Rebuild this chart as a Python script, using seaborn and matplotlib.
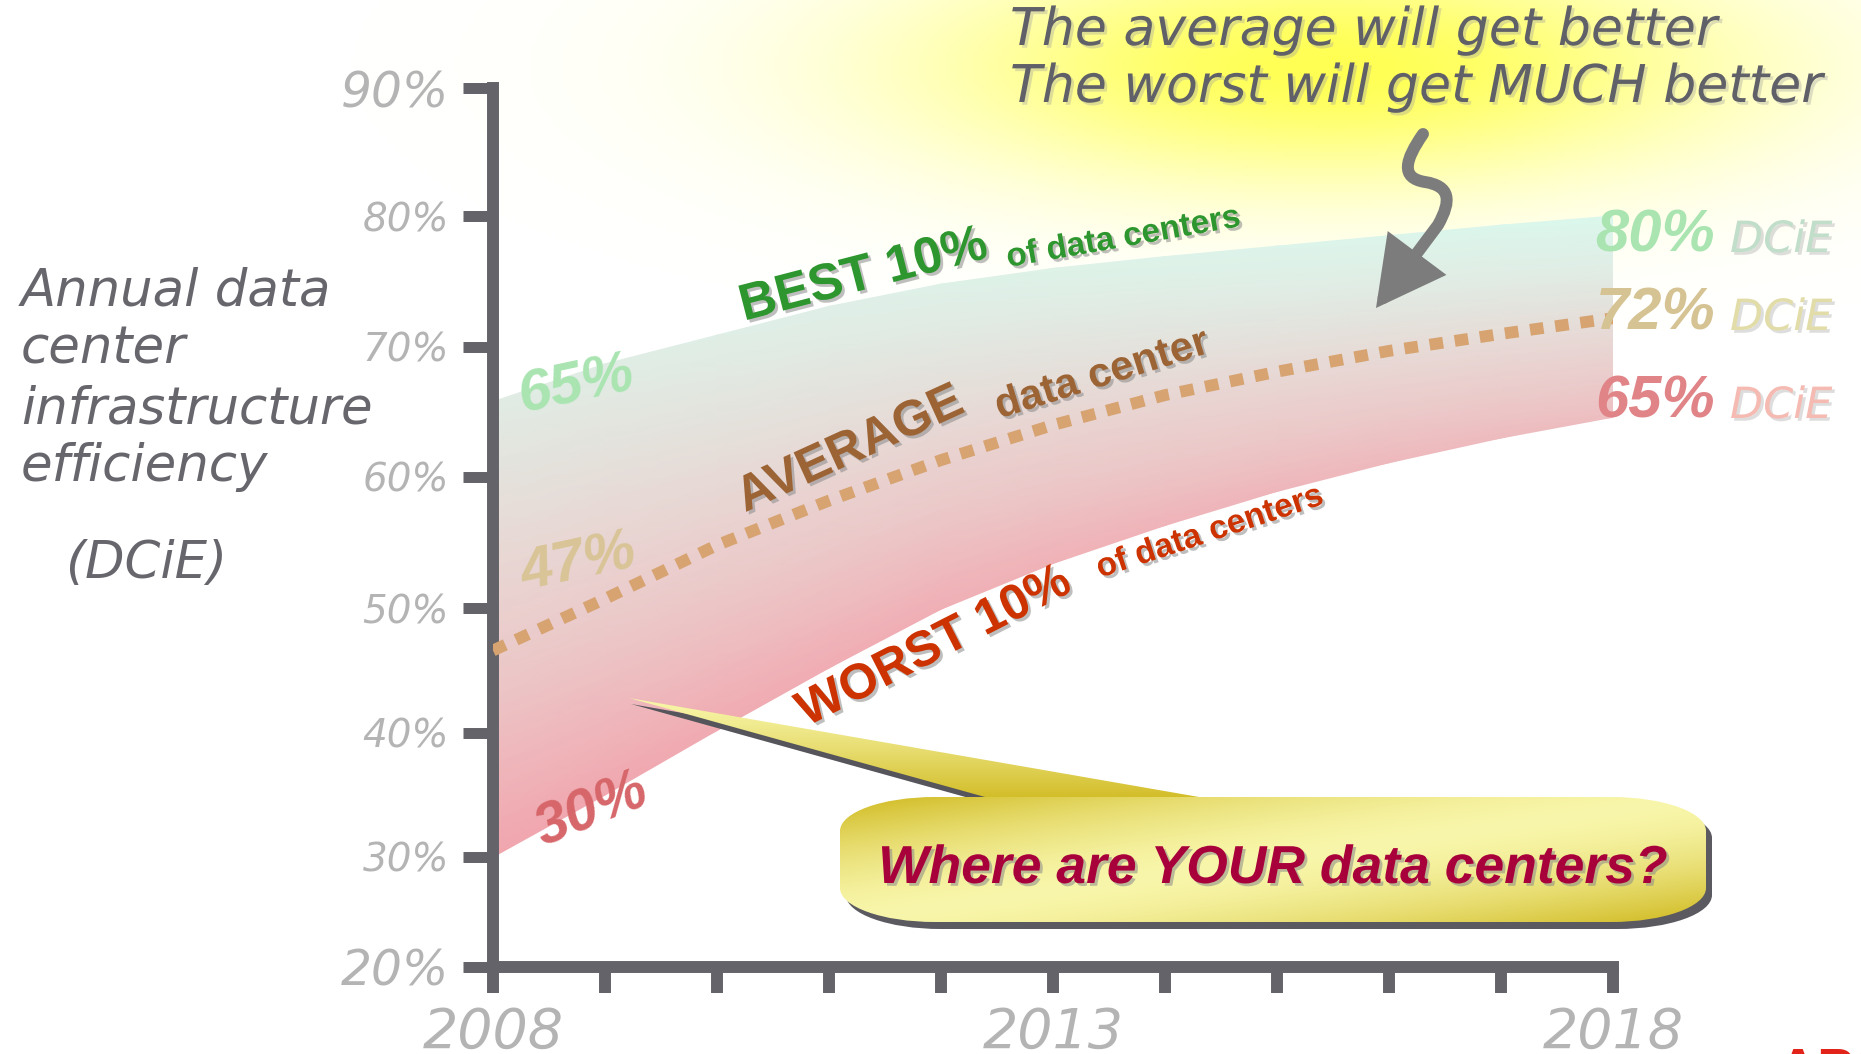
import numpy as np
import seaborn as sns
import matplotlib.pyplot as plt
import matplotlib.patheffects as pe
from matplotlib.colors import LinearSegmentedColormap, to_rgb
from matplotlib.path import Path
from matplotlib.patches import PathPatch, Polygon, FancyArrowPatch

# ---- data ----
years = np.arange(2008, 2019)
best = [65.8, 68.7, 70.9, 73.1, 74.8, 76.0, 76.9, 77.7, 78.5, 79.3, 80.0]
average = [46.6, 50.7, 54.8, 58.2, 61.3, 64.0, 66.3, 68.1, 69.7, 71.0, 72.2]
worst = [30.0, 35.0, 40.2, 45.2, 49.9, 53.4, 56.3, 58.9, 61.1, 63.0, 64.6]

y_ticks = [20, 30, 40, 50, 60, 70, 80, 90]
y_tick_labels = ['20%', '30%', '40%', '50%', '60%', '70%', '80%', '90%']
# the slide's y axis is not evenly spaced: height (px) of each tick above the x axis
y_tick_px = [0, 110, 234, 359, 490, 620, 751, 879]
x_labelled = {2008: '2008', 2013: '2013', 2018: '2018'}

start_labels = ['65%', '47%', '30%']
end_labels = ['80%', '72%', '65%']

AXIS = '#636369'
GREY_TXT = '#b4b4b4'


def fwd(v):
    v = np.asarray(v, dtype=float)
    out = np.interp(v, y_ticks, y_tick_px)
    out = np.where(v < 20, (v - 20) * 11.0, out)
    out = np.where(v > 90, 879 + (v - 90) * 12.8, out)
    return out


def inv(p):
    p = np.asarray(p, dtype=float)
    out = np.interp(p, y_tick_px, y_ticks)
    out = np.where(p < 0, 20 + p / 11.0, out)
    out = np.where(p > 879, 90 + (p - 879) / 12.8, out)
    return out


sns.set_theme(style='white')
plt.rcParams['font.family'] = ['DejaVu Sans']

W, H = 1861, 1054
fig = plt.figure(figsize=(W / 100, H / 100), dpi=100, facecolor='white')

# background glow behind the headline
bg = fig.add_axes([0, 0, 1, 1], zorder=0)
gx, gy = np.meshgrid(np.arange(0, W, 4), np.arange(0, H, 4))
glow = np.zeros(gx.shape + (4,))
glow[..., 0] = 1.0
glow[..., 1] = 1.0
glow[..., 2] = 0.25
glow[..., 3] = 0.9 * np.exp(-((gx - 1330) / 420.0) ** 2 - ((gy - 65) / 120.0) ** 2)
bg.imshow(glow, extent=(0, W, H, 0), origin='upper', aspect='auto')
bg.set_xlim(0, W)
bg.set_ylim(H, 0)
bg.axis('off')

# main chart
ax = fig.add_axes([493 / W, (H - 967) / H, 1120 / W, 879 / H], zorder=2)
ax.set_facecolor('none')
ax.set_yscale('function', functions=(fwd, inv))

band_cmap = LinearSegmentedColormap.from_list(
    'band', [(0, '#f1a6ae'), (0.3, '#ecc6c7'), (0.55, '#e7dad6'),
             (0.8, '#e0ede5'), (1, '#dbf7ec')])
n = 40
s = np.linspace(0, 1, n)[:, None]
X = np.tile(years, (n, 1)).astype(float)
Y = np.array(worst)[None, :] + s * (np.array(best) - np.array(worst))[None, :]
C = 0.78 * s + 0.22 * (X - 2008) / 10
ax.pcolormesh(X, Y, C, shading='gouraud', cmap=band_cmap, vmin=0, vmax=1, zorder=1)

sns.lineplot(x=years, y=average, color='#d6a371', linewidth=8.5, ax=ax, zorder=3)
avg_line = ax.lines[-1]
avg_line.set_dashes([1.15, 1.0])
avg_line.set_dash_capstyle('butt')

ax.set_xlim(2008, 2018)
ax.set_ylim(20, 90)
ax.set_xticks(years)
ax.set_xticklabels([x_labelled.get(y, '') for y in years])
ax.set_yticks(y_ticks)
ax.set_yticklabels(y_tick_labels)
ax.set_xlabel('')
ax.set_ylabel('')
sns.despine(ax=ax)
for side in ['left', 'bottom']:
    ax.spines[side].set_linewidth(8.6)
    ax.spines[side].set_color(AXIS)
ax.tick_params(axis='y', direction='out', length=21.6, width=7.9, color=AXIS,
               pad=10, labelsize=28, labelcolor=GREY_TXT, left=True)
ax.tick_params(axis='x', direction='out', length=18.7, width=8.6, color=AXIS,
               pad=9, labelsize=40, labelcolor=GREY_TXT, bottom=True)
for lbl in ax.get_xticklabels() + ax.get_yticklabels():
    lbl.set_style('italic')
for lbl in ax.get_yticklabels():
    if lbl.get_text() in ('90%', '20%'):
        lbl.set_fontsize(35)
ax.grid(False)

shadow = [pe.withSimplePatchShadow(offset=(2, -2), shadow_rgbFace='#8a8a8a', alpha=0.55)]
soft_shadow = [pe.withSimplePatchShadow(offset=(2, -2), shadow_rgbFace='#a0a0a0', alpha=0.35)]
bold = dict(family='Liberation Sans', weight='bold', clip_on=False,
            rotation_mode='anchor', ha='left', va='baseline', zorder=5)
centred = {**bold, 'ha': 'center', 'va': 'center'}

# start values
ax.text(2008.74, 67.0, start_labels[0], color='#a9e4b1', fontsize=42, style='italic',
        rotation=12, **centred)
ax.text(2008.77, 53.4, start_labels[1], color='#d8c496', fontsize=42, style='italic',
        rotation=12, **centred)
ax.text(2008.88, 33.7, start_labels[2], color='#d6666a', fontsize=42, style='italic',
        rotation=22, **centred)

# series names along the curves
ax.text(2010.24, 72.0, 'BEST 10%', color='#2e962e', fontsize=37, rotation=14.5,
        path_effects=shadow, **bold)
ax.text(2012.6, 76.1, 'of data centers', color='#2e962e', fontsize=24, rotation=10,
        path_effects=shadow, **bold)
ax.text(2010.25, 57.3, 'AVERAGE', color='#9c6434', fontsize=36, rotation=24.5,
        path_effects=shadow, **bold)
ax.text(2012.52, 64.5, 'data center', color='#9c6434', fontsize=30, rotation=17.4,
        path_effects=shadow, **bold)
ax.text(2010.8, 40.5, 'WORST 10%', color='#cc3300', fontsize=36, rotation=27,
        path_effects=shadow, **bold)
ax.text(2013.42, 52.3, 'of data centers', color='#cc3300', fontsize=24, rotation=18.3,
        path_effects=shadow, **bold)

# overlay for annotations in figure pixels
ov = fig.add_axes([0, 0, 1, 1], zorder=3)
ov.set_facecolor('none')

ov.text(1010, 45, 'The average will get better', fontsize=37.5, style='italic',
        color='#606068', va='baseline', path_effects=soft_shadow)
ov.text(1010, 102, 'The worst will get MUCH better', fontsize=37.5, style='italic',
        color='#606068', va='baseline', path_effects=soft_shadow)

for y, line in zip([306, 364, 423, 481], ['Annual data', 'center', 'infrastructure', 'efficiency']):
    ov.text(21, y, line, fontsize=37, style='italic', color='#66666c', va='baseline')
ov.text(65, 578, '(DCiE)', fontsize=37, style='italic', color='#66666c', va='baseline')

# end values
pct_cols = ['#a9e4b1', '#d6c393', '#e08488']
dcie_cols = ['#c0dec9', '#e2dda8', '#f5bab2']
for y, lab, c1, c2 in zip([252, 330, 418], end_labels, pct_cols, dcie_cols):
    ov.text(1715, y, lab, fontsize=43, family='Liberation Sans', weight='bold',
            style='italic', color=c1, ha='right', va='baseline')
    ov.text(1730, y, 'DCiE', fontsize=31, style='italic', color=c2, ha='left',
            va='baseline', path_effects=soft_shadow)

# squiggly arrow
arrow_path = Path([(1423, 134), (1405, 160), (1400, 178), (1425, 182),
                   (1450, 186), (1452, 200), (1438, 225), (1376, 308)],
                  [Path.MOVETO, Path.CURVE4, Path.CURVE4, Path.CURVE4,
                   Path.CURVE4, Path.CURVE4, Path.CURVE4, Path.LINETO])
ov.add_patch(FancyArrowPatch(path=arrow_path, arrowstyle='-|>,head_length=1.5,head_width=0.8',
                             mutation_scale=24, lw=8.6, color='#7c7c7c', joinstyle='miter'))


# callout bubble
def rounded_rect(x0, y0, x1, y1, rx, ry):
    k = 0.5523
    verts = [(x0 + rx, y0), (x1 - rx, y0),
             (x1 - rx + k * rx, y0), (x1, y0 + ry - k * ry), (x1, y0 + ry),
             (x1, y1 - ry),
             (x1, y1 - ry + k * ry), (x1 - rx + k * rx, y1), (x1 - rx, y1),
             (x0 + rx, y1),
             (x0 + rx - k * rx, y1), (x0, y1 - ry + k * ry), (x0, y1 - ry),
             (x0, y0 + ry),
             (x0, y0 + ry - k * ry), (x0 + rx - k * rx, y0), (x0 + rx, y0),
             (x0 + rx, y0)]
    codes = ([Path.MOVETO, Path.LINETO] + [Path.CURVE4] * 3 + [Path.LINETO] +
             [Path.CURVE4] * 3 + [Path.LINETO] + [Path.CURVE4] * 3 + [Path.LINETO] +
             [Path.CURVE4] * 3 + [Path.CLOSEPOLY])
    return Path(verts, codes)


bx0, by0, bx1, by1 = 840, 797, 1706, 922
tip, base_l, base_r = (629, 698), (985, 797), (1199, 797)

ov.add_patch(Polygon([(tip[0] + 2, tip[1] + 6), (base_l[0] + 2, base_l[1] + 6),
                      (base_r[0], base_r[1] + 6)], closed=True, fc='#55555b', ec='none',
                     zorder=1))
ov.add_patch(PathPatch(rounded_rect(bx0 + 6, by0 + 7, bx1 + 6, by1 + 7, 95, 34),
                       fc='#5a5a60', ec='none', zorder=1))

light = np.array(to_rgb('#f8f6aa'))
dark = np.array(to_rgb('#d3be2a'))

tri = Polygon([tip, base_l, base_r], closed=True, fc='none', ec='none')
ov.add_patch(tri)
px, py = np.meshgrid(np.linspace(tip[0], base_r[0], 200), np.linspace(tip[1], base_l[1], 60))
t = np.clip((py - tip[1]) / (base_l[1] - tip[1]), 0, 1)[..., None] ** 1.2
img = light * (1 - t) + dark * t
im = ov.imshow(img, extent=(tip[0], base_r[0], base_l[1], tip[1]), origin='upper',
               aspect='auto', interpolation='bilinear', zorder=2)
im.set_clip_path(tri)

box = PathPatch(rounded_rect(bx0, by0, bx1, by1, 95, 34), fc='none', ec='none')
ov.add_patch(box)
qx, qy = np.meshgrid(np.linspace(bx0, bx1, 300), np.linspace(by0, by1, 80))
d = (qx - bx0) / (bx1 - bx0) + (qy - by0) / (by1 - by0) - 1
t = np.clip(np.abs(d) / 0.95, 0, 1)[..., None] ** 1.6
img = light * (1 - t) + dark * t
im = ov.imshow(img, extent=(bx0, bx1, by1, by0), origin='upper', aspect='auto',
               interpolation='bilinear', zorder=2.1)
im.set_clip_path(box)

ov.text((bx0 + bx1) / 2, 869, 'Where are YOUR data centers?', family='Liberation Sans',
        weight='bold', style='italic', fontsize=38.5, color='#a8003a', ha='center',
        va='center', path_effects=shadow, zorder=4)

# cut-off logo at the bottom right corner
ov.text(1778, 1047, 'APC', family='Liberation Sans', weight='bold', fontsize=40,
        color='#e2231a', ha='left', va='top')

ov.set_xlim(0, W)
ov.set_ylim(H, 0)
ov.axis('off')

fig.savefig('out.png', dpi=100)
